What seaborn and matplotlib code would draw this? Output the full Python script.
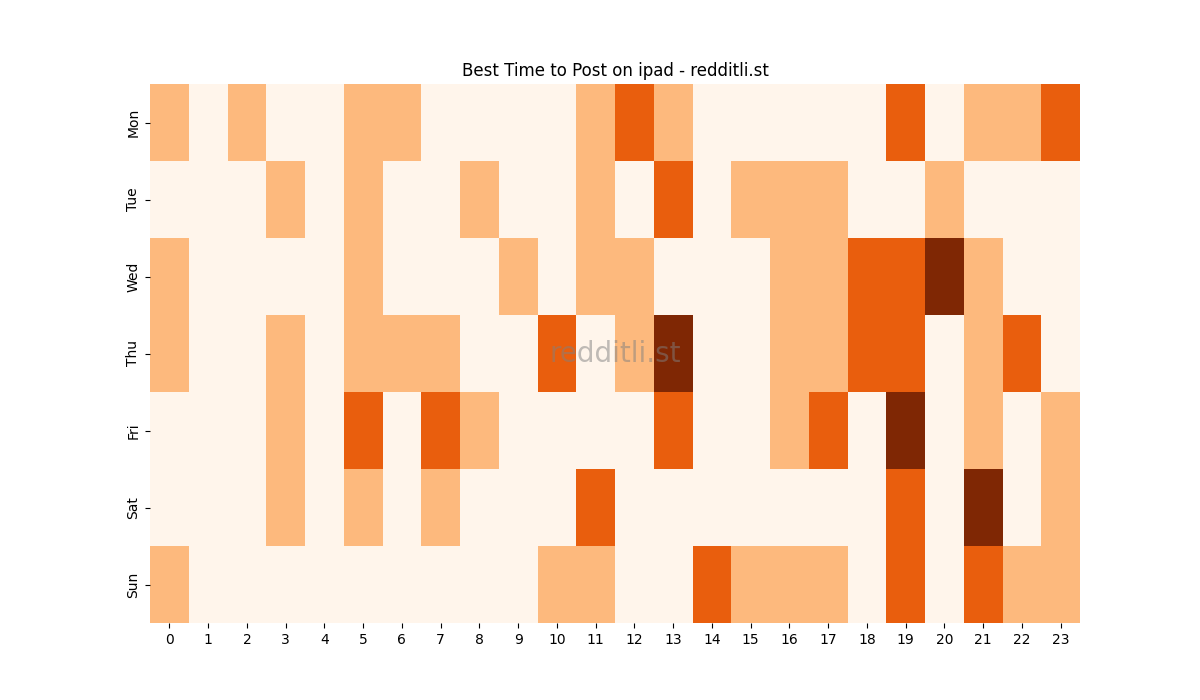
import numpy as np
import pandas as pd
import matplotlib
matplotlib.use("Agg")
import matplotlib.pyplot as plt
import seaborn as sns

days = ['Mon', 'Tue', 'Wed', 'Thu', 'Fri', 'Sat', 'Sun']
hours = list(range(24))

# activity level per hour (0 = low, 3 = best)
mon = [1, 0, 1, 0, 0, 1, 1, 0, 0, 0, 0, 1, 2, 1, 0, 0, 0, 0, 0, 2, 0, 1, 1, 2]
tue = [0, 0, 0, 1, 0, 1, 0, 0, 1, 0, 0, 1, 0, 2, 0, 1, 1, 1, 0, 0, 1, 0, 0, 0]
wed = [1, 0, 0, 0, 0, 1, 0, 0, 0, 1, 0, 1, 1, 0, 0, 0, 1, 1, 2, 2, 3, 1, 0, 0]
thu = [1, 0, 0, 1, 0, 1, 1, 1, 0, 0, 2, 0, 1, 3, 0, 0, 1, 1, 2, 2, 0, 1, 2, 0]
fri = [0, 0, 0, 1, 0, 2, 0, 2, 1, 0, 0, 0, 0, 2, 0, 0, 1, 2, 0, 3, 0, 1, 0, 1]
sat = [0, 0, 0, 1, 0, 1, 0, 1, 0, 0, 0, 2, 0, 0, 0, 0, 0, 0, 0, 2, 0, 3, 0, 1]
sun = [1, 0, 0, 0, 0, 0, 0, 0, 0, 0, 1, 1, 0, 0, 2, 1, 1, 1, 0, 2, 0, 2, 1, 1]

df = pd.DataFrame([mon, tue, wed, thu, fri, sat, sun], index=days, columns=hours)

fig = plt.figure(figsize=(12, 7), dpi=100)
ax = sns.heatmap(df, cmap='Oranges', vmin=0, vmax=3, cbar=False)

ax.set_title('Best Time to Post on ipad - redditli.st')
ax.set_yticklabels(days, rotation=90, va='center')
ax.set_xticklabels(hours, rotation=0)

ax.text(0.5, 0.5, 'redditli.st', transform=ax.transAxes, fontsize=20,
        color='gray', alpha=0.5, ha='center', va='center')

plt.savefig('out.png', dpi=100)
